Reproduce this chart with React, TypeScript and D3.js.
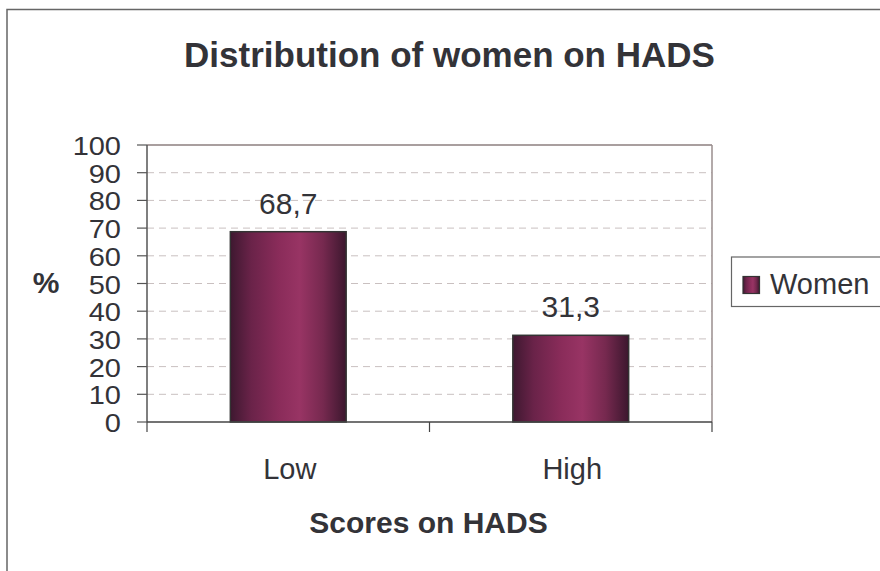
import React from "react";
import * as d3 from "d3";

const categories = ["Low", "High"];
const values = [68.7, 31.3];
const valueLabels = ["68,7", "31,3"];
const yTicks = [0, 10, 20, 30, 40, 50, 60, 70, 80, 90, 100];
const seriesName = "Women";
const title = "Distribution of women on HADS";
const xTitle = "Scores on HADS";
const yTitle = "%";

const W = 880;
const H = 571;
const plot = { left: 147, right: 712, top: 145, bottom: 422 };
const textColor = "#333338";
const font = "'Liberation Sans', Arial, Helvetica, sans-serif";

export default function App() {
  const x = d3
    .scaleBand<string>()
    .domain(categories)
    .range([plot.left, plot.right])
    .paddingInner(0.59)
    .paddingOuter(0.295);
  const y = d3.scaleLinear().domain([0, 100]).range([plot.bottom, plot.top]);
  const outer = d3.scaleBand<string>().domain(categories).range([plot.left, plot.right]);
  const xTickPos = [plot.left, ...categories.map((c) => (outer(c) as number) + outer.bandwidth())];

  return (
    <div style={{ position: "absolute", left: 0, top: 0 }}>
      <svg width={W} height={H} style={{ display: "block", background: "#fff" }}>
        <defs>
          <linearGradient id="barGrad" x1="0" x2="1" y1="0" y2="0">
            <stop offset="0" stopColor="#3e1830" />
            <stop offset="0.18" stopColor="#6a2349" />
            <stop offset="0.42" stopColor="#8a2c5a" />
            <stop offset="0.6" stopColor="#983464" />
            <stop offset="0.8" stopColor="#76294f" />
            <stop offset="1" stopColor="#3c172e" />
          </linearGradient>
        </defs>
        {/* outer chart border */}
        <rect x={7} y={9.5} width={W + 10} height={H + 10} fill="none" stroke="#666" strokeWidth={1.5} />
        {/* title */}
        <text x={449.5} y={66.5} textAnchor="middle" fontFamily={font} fontWeight="bold" fontSize={35} fill={textColor}>
          {title}
        </text>
        {/* grid lines */}
        {yTicks
          .filter((t) => t > 0 && t < 100)
          .map((t) => (
            <line
              key={"g" + t}
              x1={plot.left}
              x2={plot.right}
              y1={y(t)}
              y2={y(t)}
              stroke="#c9c0c0"
              strokeWidth={1}
              strokeDasharray="7,5"
            />
          ))}
        {/* plot frame top/right */}
        <line x1={plot.left} x2={plot.right} y1={plot.top} y2={plot.top} stroke="#8c7f7f" strokeWidth={1.5} />
        <line x1={plot.right} x2={plot.right} y1={plot.top} y2={plot.bottom} stroke="#9a8e8e" strokeWidth={1.5} />
        {/* bars */}
        {categories.map((c, i) => (
          <g key={c}>
            <rect
              x={x(c)}
              y={y(values[i])}
              width={x.bandwidth()}
              height={plot.bottom - y(values[i])}
              fill="url(#barGrad)"
              stroke="#333"
              strokeWidth={1.5}
            />
            <text
              x={(x(c) as number) + x.bandwidth() / 2}
              y={y(values[i]) - 18}
              textAnchor="middle"
              fontFamily={font}
              fontSize={30}
              fill={textColor}
            >
              {valueLabels[i]}
            </text>
          </g>
        ))}
        {/* y axis */}
        <line x1={plot.left} x2={plot.left} y1={plot.top} y2={plot.bottom} stroke="#555" strokeWidth={1.5} />
        {yTicks.map((t) => (
          <g key={"t" + t}>
            <line x1={plot.left - 10} x2={plot.left} y1={y(t)} y2={y(t)} stroke="#555" strokeWidth={1.2} />
            <text
              x={121}
              y={0}
              textAnchor="end"
              fontFamily={font}
              fontSize={29}
              fill={textColor}
              transform={`translate(0, ${y(t) + 10}) scale(1, 0.86)`}
            >
              {t}
            </text>
          </g>
        ))}
        {/* x axis */}
        <line x1={plot.left} x2={plot.right} y1={plot.bottom} y2={plot.bottom} stroke="#444" strokeWidth={1.5} />
        {xTickPos.map((p, i) => (
          <line key={"xt" + i} x1={p} x2={p} y1={plot.bottom} y2={plot.bottom + 10} stroke="#444" strokeWidth={1.2} />
        ))}
        {categories.map((c) => (
          <text
            key={"xl" + c}
            x={(outer(c) as number) + outer.bandwidth() / 2 + 1.5}
            y={479}
            textAnchor="middle"
            fontFamily={font}
            fontSize={29}
            fill={textColor}
          >
            {c}
          </text>
        ))}
        {/* axis titles */}
        <text x={428.5} y={533} textAnchor="middle" fontFamily={font} fontWeight="bold" fontSize={30} fill={textColor}>
          {xTitle}
        </text>
        <text x={46} y={293} textAnchor="middle" fontFamily={font} fontWeight="bold" fontSize={30} fill={textColor}>
          {yTitle}
        </text>
        {/* legend */}
        <rect x={731.5} y={257} width={160} height={49.5} fill="#fff" stroke="#666" strokeWidth={1.2} />
        <rect x={743} y={276.5} width={16.5} height={17} fill="url(#barGrad)" stroke="#333" strokeWidth={1.2} />
        <text x={770} y={294} fontFamily={font} fontSize={29} fill={textColor}>
          {seriesName}
        </text>
      </svg>
    </div>
  );
}
